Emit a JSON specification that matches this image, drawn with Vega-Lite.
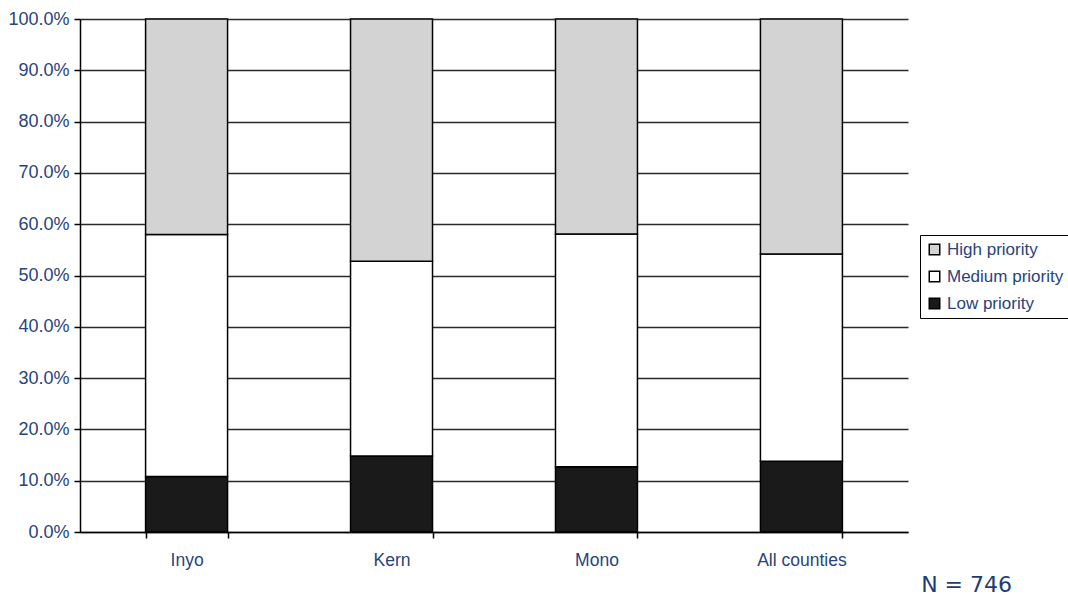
{
  "$schema": "https://vega.github.io/schema/vega-lite/v6.json",
  "width": 828,
  "height": 513,
  "autosize": "none",
  "padding": {"left": 80, "top": 19, "right": 160, "bottom": 67},
  "background": "white",
  "config": {"view": {"stroke": null}, "font": "Liberation Sans"},
  "title": {
    "text": "N = 746",
    "orient": "bottom",
    "anchor": "end",
    "frame": "group",
    "dx": 104,
    "offset": 6,
    "font": "DejaVu Sans",
    "fontSize": 22,
    "fontWeight": "normal",
    "color": "#1f3d70"
  },
  "data": {
    "values": [
      {"county": "Inyo", "priority": "Low priority", "level": 1, "share": 0.108},
      {"county": "Inyo", "priority": "Medium priority", "level": 2, "share": 0.472},
      {"county": "Inyo", "priority": "High priority", "level": 3, "share": 0.420},
      {"county": "Kern", "priority": "Low priority", "level": 1, "share": 0.148},
      {"county": "Kern", "priority": "Medium priority", "level": 2, "share": 0.380},
      {"county": "Kern", "priority": "High priority", "level": 3, "share": 0.472},
      {"county": "Mono", "priority": "Low priority", "level": 1, "share": 0.127},
      {"county": "Mono", "priority": "Medium priority", "level": 2, "share": 0.454},
      {"county": "Mono", "priority": "High priority", "level": 3, "share": 0.419},
      {"county": "All counties", "priority": "Low priority", "level": 1, "share": 0.138},
      {"county": "All counties", "priority": "Medium priority", "level": 2, "share": 0.404},
      {"county": "All counties", "priority": "High priority", "level": 3, "share": 0.458}
    ]
  },
  "mark": {"type": "bar", "stroke": "black", "strokeWidth": 1.5},
  "encoding": {
    "x": {
      "field": "county",
      "type": "nominal",
      "sort": ["Inyo", "Kern", "Mono", "All counties"],
      "scale": {"paddingInner": 0.6, "paddingOuter": 0.32},
      "axis": {
        "title": null,
        "labelAngle": 0,
        "labelFontSize": 17.5,
        "labelColor": "#27447e",
        "labelPadding": 13,
        "tickBand": "extent",
        "tickColor": "black",
        "tickSize": 6,
        "tickWidth": 1.5,
        "domainColor": "black",
        "domainWidth": 1.5,
        "grid": false
      }
    },
    "y": {
      "field": "share",
      "type": "quantitative",
      "stack": "zero",
      "scale": {"domain": [0, 1], "nice": false},
      "axis": {
        "title": null,
        "format": ".1%",
        "values": [0, 0.1, 0.2, 0.3, 0.4, 0.5, 0.6, 0.7, 0.8, 0.9, 1],
        "labelFontSize": 18,
        "labelColor": "#27447e",
        "labelPadding": 5,
        "tickColor": "black",
        "tickSize": 6,
        "tickWidth": 1.5,
        "domainColor": "black",
        "domainWidth": 1.5,
        "grid": true,
        "gridColor": "#2a2a2a",
        "gridWidth": 1.3
      }
    },
    "color": {
      "field": "priority",
      "type": "nominal",
      "scale": {
        "domain": ["High priority", "Medium priority", "Low priority"],
        "range": ["#d3d3d3", "#ffffff", "#1a1a1a"]
      },
      "legend": {
        "title": null,
        "orient": "none",
        "legendX": 840,
        "legendY": 216,
        "symbolType": "square",
        "symbolSize": 110,
        "symbolStrokeColor": "black",
        "symbolStrokeWidth": 1.5,
        "labelFontSize": 17,
        "labelColor": "#27447e",
        "labelOffset": 4,
        "rowPadding": 9,
        "padding": 6,
        "strokeColor": "black",
        "fillColor": "white"
      }
    },
    "order": {"field": "level", "type": "quantitative"}
  }
}
